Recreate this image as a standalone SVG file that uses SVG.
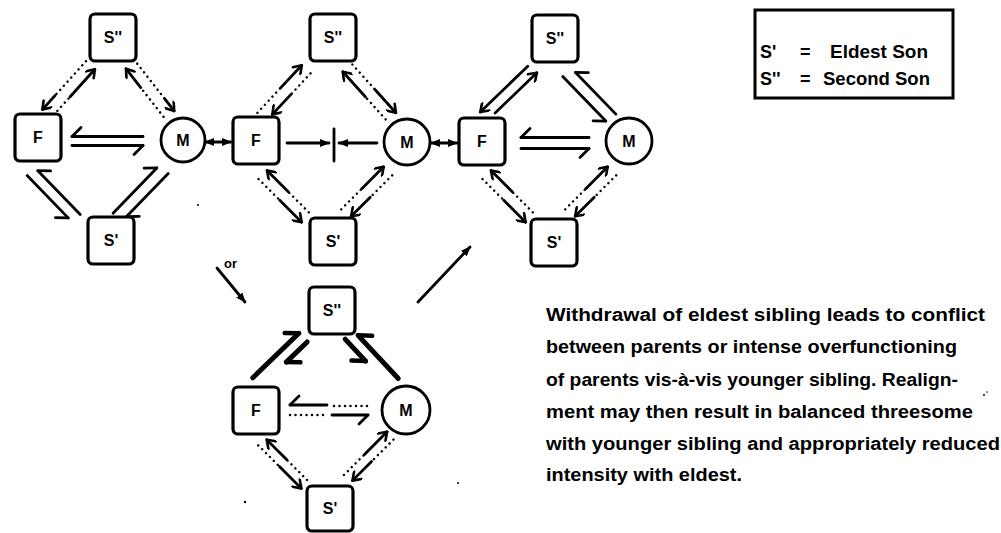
<svg xmlns="http://www.w3.org/2000/svg" width="1001" height="533" viewBox="0 0 1001 533">
<defs>
<style>
.box{fill:#fff;stroke:#000;stroke-width:3.2}
.ring{fill:#fff;stroke:#000;stroke-width:2.8}
.lbl{font-family:"Liberation Sans",Arial,sans-serif;font-weight:bold;font-size:16px;text-anchor:middle;fill:#000}
.sol{fill:none;stroke:#000;stroke-width:2.8;stroke-linecap:round}
.thk{fill:none;stroke:#000;stroke-width:5;stroke-linecap:round}
.dot{fill:none;stroke:#000;stroke-width:2.5;stroke-linecap:round;stroke-dasharray:0 5.5}
.txt{font-family:"Liberation Sans",Arial,sans-serif;font-weight:bold;font-size:18px;fill:#000}
.small{font-family:"Liberation Sans",Arial,sans-serif;font-weight:bold;font-size:13px;fill:#000}
</style>
<!-- open arrowhead -->
<marker id="hd" viewBox="0 0 12 12" markerWidth="12" markerHeight="12" refX="10.5" refY="6" orient="auto" markerUnits="userSpaceOnUse"><path d="M3,0.8 L10.5,6 L3,11.2" fill="none" stroke="#000" stroke-width="2.6" stroke-linecap="round" stroke-linejoin="round"/></marker>
<!-- harpoon barbs: left / right of travel -->
<marker id="hl" viewBox="0 0 16 16" markerWidth="16" markerHeight="16" refX="14" refY="13" orient="auto" markerUnits="userSpaceOnUse"><path d="M14,13 L5,4" stroke="#000" stroke-width="2.8" stroke-linecap="round"/></marker>
<marker id="hr" viewBox="0 0 16 16" markerWidth="16" markerHeight="16" refX="14" refY="3" orient="auto" markerUnits="userSpaceOnUse"><path d="M14,3 L5,12" stroke="#000" stroke-width="2.8" stroke-linecap="round"/></marker>
<marker id="hlT" viewBox="0 0 18 18" markerWidth="18" markerHeight="18" refX="15" refY="15" orient="auto" markerUnits="userSpaceOnUse"><path d="M15,15 L5,5" stroke="#000" stroke-width="4.5" stroke-linecap="round"/></marker>
<marker id="hrT" viewBox="0 0 18 18" markerWidth="18" markerHeight="18" refX="15" refY="3" orient="auto" markerUnits="userSpaceOnUse"><path d="M15,3 L5,13" stroke="#000" stroke-width="4.5" stroke-linecap="round"/></marker>
<!-- filled arrowhead -->
<marker id="fh" viewBox="0 0 10 8" markerWidth="10" markerHeight="8" refX="9" refY="4" orient="auto-start-reverse" markerUnits="userSpaceOnUse"><path d="M0,0 L10,4 L0,8 z" fill="#000"/></marker>
</defs>

<rect width="1001" height="533" fill="#fff"/>

<!-- connectors -->
<g id="connectors">
  <!-- diagram 1 -->
  <g transform="translate(69,89) rotate(-48)">
    <path class="dot" d="M32,-6H-14"/><path class="sol" d="M-14,-6H-33" marker-end="url(#hd)"/>
    <path class="dot" d="M-24,6H-5"/><path class="sol" d="M-5,6H32" marker-end="url(#hd)"/>
  </g>
  <g transform="translate(151,91) rotate(52)">
    <path class="dot" d="M-30,-6H14"/><path class="sol" d="M14,-6H30" marker-end="url(#hd)"/>
    <path class="dot" d="M28,6H-9"/><path class="sol" d="M-9,6H-33" marker-end="url(#hd)"/>
  </g>
  <g transform="translate(141,193) rotate(134)">
    <path class="sol" d="M-33,-6H27" marker-end="url(#hl)"/>
    <path class="sol" d="M34,6H-29" marker-end="url(#hl)"/>
  </g>
  <g transform="translate(53,195) rotate(-134)">
    <path class="sol" d="M32,-5H-27" marker-end="url(#hr)"/>
    <path class="sol" d="M-33,6H28" marker-end="url(#hr)"/>
  </g>
  <g transform="translate(107,141)">
    <path class="sol" d="M36,-4.5H-35" marker-end="url(#hr)"/>
    <path class="sol" d="M-35,4.5H36" marker-end="url(#hr)"/>
  </g>

  <!-- link 1 to 2 -->
  <path class="sol" d="M205,142H231" marker-start="url(#fh)" marker-end="url(#fh)"/>

  <!-- diagram 2 -->
  <g transform="translate(285,92) rotate(-47)">
    <path class="dot" d="M-34,-6H0"/><path class="sol" d="M0,-6H31" marker-end="url(#hd)"/>
    <path class="dot" d="M31,6H2"/><path class="sol" d="M2,6H-25" marker-end="url(#hd)"/>
  </g>
  <g transform="translate(370,93) rotate(48)">
    <path class="dot" d="M-33,-6H0"/><path class="sol" d="M0,-6H32" marker-end="url(#hd)"/>
    <path class="dot" d="M30,6H0"/><path class="sol" d="M0,6H-34" marker-end="url(#hd)"/>
  </g>
  <g transform="translate(366,193) rotate(135)">
    <path class="dot" d="M-31,-6H0"/><path class="sol" d="M0,-6H27" marker-end="url(#hd)"/>
    <path class="dot" d="M29,6H0"/><path class="sol" d="M0,6H-31" marker-end="url(#hd)"/>
  </g>
  <g transform="translate(284,196) rotate(-135)">
    <path class="dot" d="M30,-6H0"/><path class="sol" d="M0,-6H-31" marker-end="url(#hd)"/>
    <path class="dot" d="M-29,6H0"/><path class="sol" d="M0,6H30" marker-end="url(#hd)"/>
  </g>
  <path class="sol" d="M287,143H329" stroke-width="4" marker-end="url(#fh)"/>
  <path class="sol" d="M334,129V161"/>
  <path class="sol" d="M377,143H339" stroke-width="4" marker-end="url(#fh)"/>

  <!-- link 2 to 3 -->
  <path class="sol" d="M431,143H457" marker-start="url(#fh)" marker-end="url(#fh)"/>

  <!-- diagram 3 -->
  <g transform="translate(510,91) rotate(-44)">
    <path class="sol" d="M30,-5.5H-36" marker-end="url(#hd)"/>
    <path class="sol" d="M-26,5.5H32" marker-end="url(#hd)"/>
  </g>
  <g transform="translate(590,96) rotate(46)">
    <path class="sol" d="M31,-6H-27" marker-end="url(#hr)"/>
    <path class="sol" d="M-33,6H29" marker-end="url(#hr)"/>
  </g>
  <g transform="translate(590,193) rotate(135)">
    <path class="dot" d="M-31,-6H0"/><path class="sol" d="M0,-6H27" marker-end="url(#hd)"/>
    <path class="dot" d="M29,6H0"/><path class="sol" d="M0,6H-31" marker-end="url(#hd)"/>
  </g>
  <g transform="translate(508,196) rotate(-135)">
    <path class="dot" d="M30,-6H0"/><path class="sol" d="M0,-6H-31" marker-end="url(#hd)"/>
    <path class="dot" d="M-29,6H0"/><path class="sol" d="M0,6H30" marker-end="url(#hd)"/>
  </g>
  <g transform="translate(555,143)">
    <path class="sol" d="M34,-5.5H-34" marker-end="url(#hr)"/>
    <path class="sol" d="M-34,5.5H34" marker-end="url(#hr)"/>
  </g>

  <!-- transitions -->
  <path class="sol" d="M217,268L245,302" stroke-width="2.2" marker-end="url(#fh)"/>
  <path class="sol" d="M418,302L470,247" stroke-width="2.2" marker-end="url(#fh)"/>

  <!-- diagram 4 -->
  <g transform="translate(285,355) rotate(-44)">
    <path class="thk" d="M-39,-6H25" marker-end="url(#hlT)"/>
    <path class="thk" d="M25,6H-4" marker-end="url(#hlT)"/>
  </g>
  <g transform="translate(370,357) rotate(47)">
    <path class="thk" d="M35,-6H-24" marker-end="url(#hrT)"/>
    <path class="thk" d="M-30,6H0" marker-end="url(#hrT)"/>
  </g>
  <g transform="translate(368,458) rotate(135)">
    <path class="dot" d="M-31,-5H0"/><path class="sol" d="M0,-5H27" marker-end="url(#hd)"/>
    <path class="dot" d="M29,5H0"/><path class="sol" d="M0,5H-32" marker-end="url(#hd)"/>
  </g>
  <g transform="translate(283,463) rotate(-135)">
    <path class="dot" d="M30,-5H0"/><path class="sol" d="M0,-5H-31" marker-end="url(#hd)"/>
    <path class="dot" d="M-29,5H0"/><path class="sol" d="M0,5H28" marker-end="url(#hd)"/>
  </g>
  <path class="dot" d="M367,406H332"/><path class="sol" d="M327,405H290" marker-end="url(#hr)"/>
  <path class="dot" d="M290,415H328"/><path class="sol" d="M332,415H368" marker-end="url(#hr)"/>
</g>

<!-- diagram 1 nodes -->
<g id="d1-s2"><rect class="box" x="90" y="14" width="46" height="47" rx="5"/><text class="lbl" x="113" y="43">S''</text></g>
<g id="d1-f"><rect class="box" x="15" y="114" width="46" height="47" rx="5"/><text class="lbl" x="38" y="143">F</text></g>
<g id="d1-m"><circle class="ring" cx="183" cy="140" r="22"/><text class="lbl" x="183" y="146">M</text></g>
<g id="d1-s1"><rect class="box" x="88" y="217" width="46" height="47" rx="5"/><text class="lbl" x="111" y="246">S'</text></g>

<!-- diagram 2 nodes -->
<g id="d2-s2"><rect class="box" x="310" y="14" width="46" height="47" rx="5"/><text class="lbl" x="333" y="43">S''</text></g>
<g id="d2-f"><rect class="box" x="233" y="117" width="46" height="47" rx="5"/><text class="lbl" x="256" y="146">F</text></g>
<g id="d2-m"><circle class="ring" cx="407" cy="142" r="23"/><text class="lbl" x="407" y="148">M</text></g>
<g id="d2-s1"><rect class="box" x="310" y="218" width="46" height="47" rx="5"/><text class="lbl" x="333" y="247">S'</text></g>

<!-- diagram 3 nodes -->
<g id="d3-s2"><rect class="box" x="532" y="15" width="46" height="47" rx="5"/><text class="lbl" x="555" y="44">S''</text></g>
<g id="d3-f"><rect class="box" x="459" y="118" width="46" height="47" rx="5"/><text class="lbl" x="482" y="147">F</text></g>
<g id="d3-m"><circle class="ring" cx="629" cy="141" r="23"/><text class="lbl" x="629" y="147">M</text></g>
<g id="d3-s1"><rect class="box" x="531" y="219" width="46" height="47" rx="5"/><text class="lbl" x="554" y="248">S'</text></g>

<!-- diagram 4 nodes -->
<g id="d4-s2"><rect class="box" x="309" y="287" width="46" height="47" rx="5"/><text class="lbl" x="332" y="316">S''</text></g>
<g id="d4-f"><rect class="box" x="233" y="387" width="46" height="47" rx="5"/><text class="lbl" x="256" y="416">F</text></g>
<g id="d4-m"><circle class="ring" cx="406" cy="410" r="24"/><text class="lbl" x="406" y="416">M</text></g>
<g id="d4-s1"><rect class="box" x="307" y="486" width="46" height="45" rx="5"/><text class="lbl" x="330" y="514">S'</text></g>

<text class="small" x="224" y="268">or</text>

<!-- key -->
<g id="key">
  <rect x="755" y="10" width="198" height="88" fill="#fff" stroke="#000" stroke-width="3"/>
  <text class="txt" x="760" y="58">S'</text>
  <text class="txt" x="800" y="58">=</text>
  <text class="txt" x="830" y="58" textLength="98" lengthAdjust="spacingAndGlyphs">Eldest Son</text>
  <text class="txt" x="760" y="85">S''</text>
  <text class="txt" x="800" y="85">=</text>
  <text class="txt" x="823" y="85" textLength="107" lengthAdjust="spacingAndGlyphs">Second Son</text>
</g>

<!-- caption -->
<g id="caption">
  <text class="txt" x="546" y="321" textLength="439" lengthAdjust="spacingAndGlyphs">Withdrawal of eldest sibling leads to conflict</text>
  <text class="txt" x="546" y="353" textLength="411" lengthAdjust="spacingAndGlyphs">between parents or intense overfunctioning</text>
  <text class="txt" x="546" y="386" textLength="412" lengthAdjust="spacingAndGlyphs">of parents vis-à-vis younger sibling. Realign-</text>
  <text class="txt" x="546" y="418" textLength="427" lengthAdjust="spacingAndGlyphs">ment may then result in balanced threesome</text>
  <text class="txt" x="546" y="450" textLength="454" lengthAdjust="spacingAndGlyphs">with younger sibling and appropriately reduced</text>
  <text class="txt" x="546" y="481" textLength="196" lengthAdjust="spacingAndGlyphs">intensity with eldest.</text>
</g>

<!-- specks -->
<g fill="#000">
  <circle cx="198" cy="205" r="1"/>
  <circle cx="245" cy="502" r="1.2"/>
  <circle cx="458" cy="483" r="1"/>
  <circle cx="984" cy="395" r="1"/>
  <circle cx="987" cy="392" r="0.8"/>
</g>
</svg>
